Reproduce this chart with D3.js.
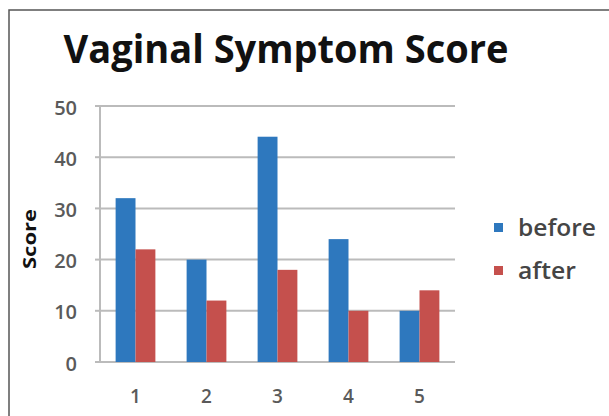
<!DOCTYPE html>
<html><head><meta charset="utf-8">
<script src="https://cdn.jsdelivr.net/npm/d3@7/dist/d3.min.js"></script>
<style>body{margin:0;background:#fff}svg{display:block}</style>
</head><body>
<script>
const categories = ["1","2","3","4","5"];
const seriesNames = ["before","after"];
const before = [32, 20, 44, 24, 10];
const after = [22, 12, 18, 10, 14];
const yTicks = [0,10,20,30,40,50];
const colors = ["#2E78BE","#C5504D"];

(function(){
const W=609,H=416;
const svg=d3.select("body").append("svg").attr("width",W).attr("height",H);
svg.append("rect").attr("x",9).attr("y",10).attr("width",W).attr("height",H).attr("fill","#fff").attr("stroke","#555").attr("stroke-width",1.5);

const pL=100,pR=455,pT=106,pB=362;
const x=d3.scaleBand().domain(categories).range([pL,pR]).paddingInner(0.44).paddingOuter(0.22);
const xs=d3.scaleBand().domain(seriesNames).range([0,x.bandwidth()]);
const y=d3.scaleLinear().domain([0,50]).range([pB,pT]);

svg.append("g").selectAll("line").data(yTicks).join("line")
 .attr("x1",pL).attr("x2",pR).attr("y1",d=>y(d)).attr("y2",d=>y(d))
 .attr("stroke","#BBBBBB").attr("stroke-width",2);
svg.append("line").attr("x1",pL).attr("x2",pL).attr("y1",pT).attr("y2",pB).attr("stroke","#BBBBBB").attr("stroke-width",2);
svg.append("g").selectAll("line").data(yTicks).join("line")
 .attr("x1",pL-5).attr("x2",pL).attr("y1",d=>y(d)).attr("y2",d=>y(d)).attr("stroke","#BBBBBB").attr("stroke-width",2);

const data=categories.map((c,i)=>({c,vals:[before[i],after[i]]}));
svg.append("g").selectAll("g").data(data).join("g")
 .attr("transform",d=>`translate(${x(d.c)},0)`)
 .selectAll("rect").data(d=>d.vals.map((v,j)=>({v,s:seriesNames[j],j}))).join("rect")
 .attr("x",d=>xs(d.s)).attr("width",xs.bandwidth())
 .attr("y",d=>y(d.v)).attr("height",d=>y(0)-y(d.v)).attr("fill",d=>colors[d.j]);

svg.append("g").selectAll("text").data(yTicks).join("text")
 .attr("x",77).attr("y",d=>y(d)+8.5).attr("text-anchor","end")
 .attr("font-family","Open Sans, sans-serif").attr("font-weight",600).attr("font-size",20).attr("fill","#5a5a5a").text(d=>d);
svg.append("g").selectAll("text").data(categories).join("text")
 .attr("x",d=>x(d)+x.bandwidth()/2).attr("y",403).attr("text-anchor","middle")
 .attr("font-family","Open Sans, sans-serif").attr("font-weight",600).attr("font-size",19).attr("fill","#5a5a5a").text(d=>d);

svg.append("text").attr("transform","translate(36,239) rotate(-90)").attr("text-anchor","middle")
 .attr("font-family","Open Sans, sans-serif").attr("font-weight","bold").attr("font-size",17).attr("fill","#111")
 .attr("textLength",60).attr("lengthAdjust","spacingAndGlyphs").text("Score");

svg.append("text").attr("x",286).attr("y",63).attr("text-anchor","middle")
 .attr("font-family","Open Sans, sans-serif").attr("font-weight","bold").attr("font-size",39).attr("fill","#111")
 .attr("textLength",445).attr("lengthAdjust","spacingAndGlyphs").text("Vaginal Symptom Score");

const lg=svg.append("g").selectAll("g").data(seriesNames).join("g")
 .attr("transform",(d,i)=>`translate(494,${223+i*43})`);
lg.append("rect").attr("width",9).attr("height",9).attr("fill",(d,i)=>colors[i]);
lg.append("text").attr("x",24).attr("y",12.5).attr("font-family","Open Sans, sans-serif").attr("font-weight",600).attr("font-size",24).attr("fill","#454545")
 .attr("textLength",(d,i)=>i===0?78:58).attr("lengthAdjust","spacingAndGlyphs").text(d=>d);
})();
</script>
</body></html>
